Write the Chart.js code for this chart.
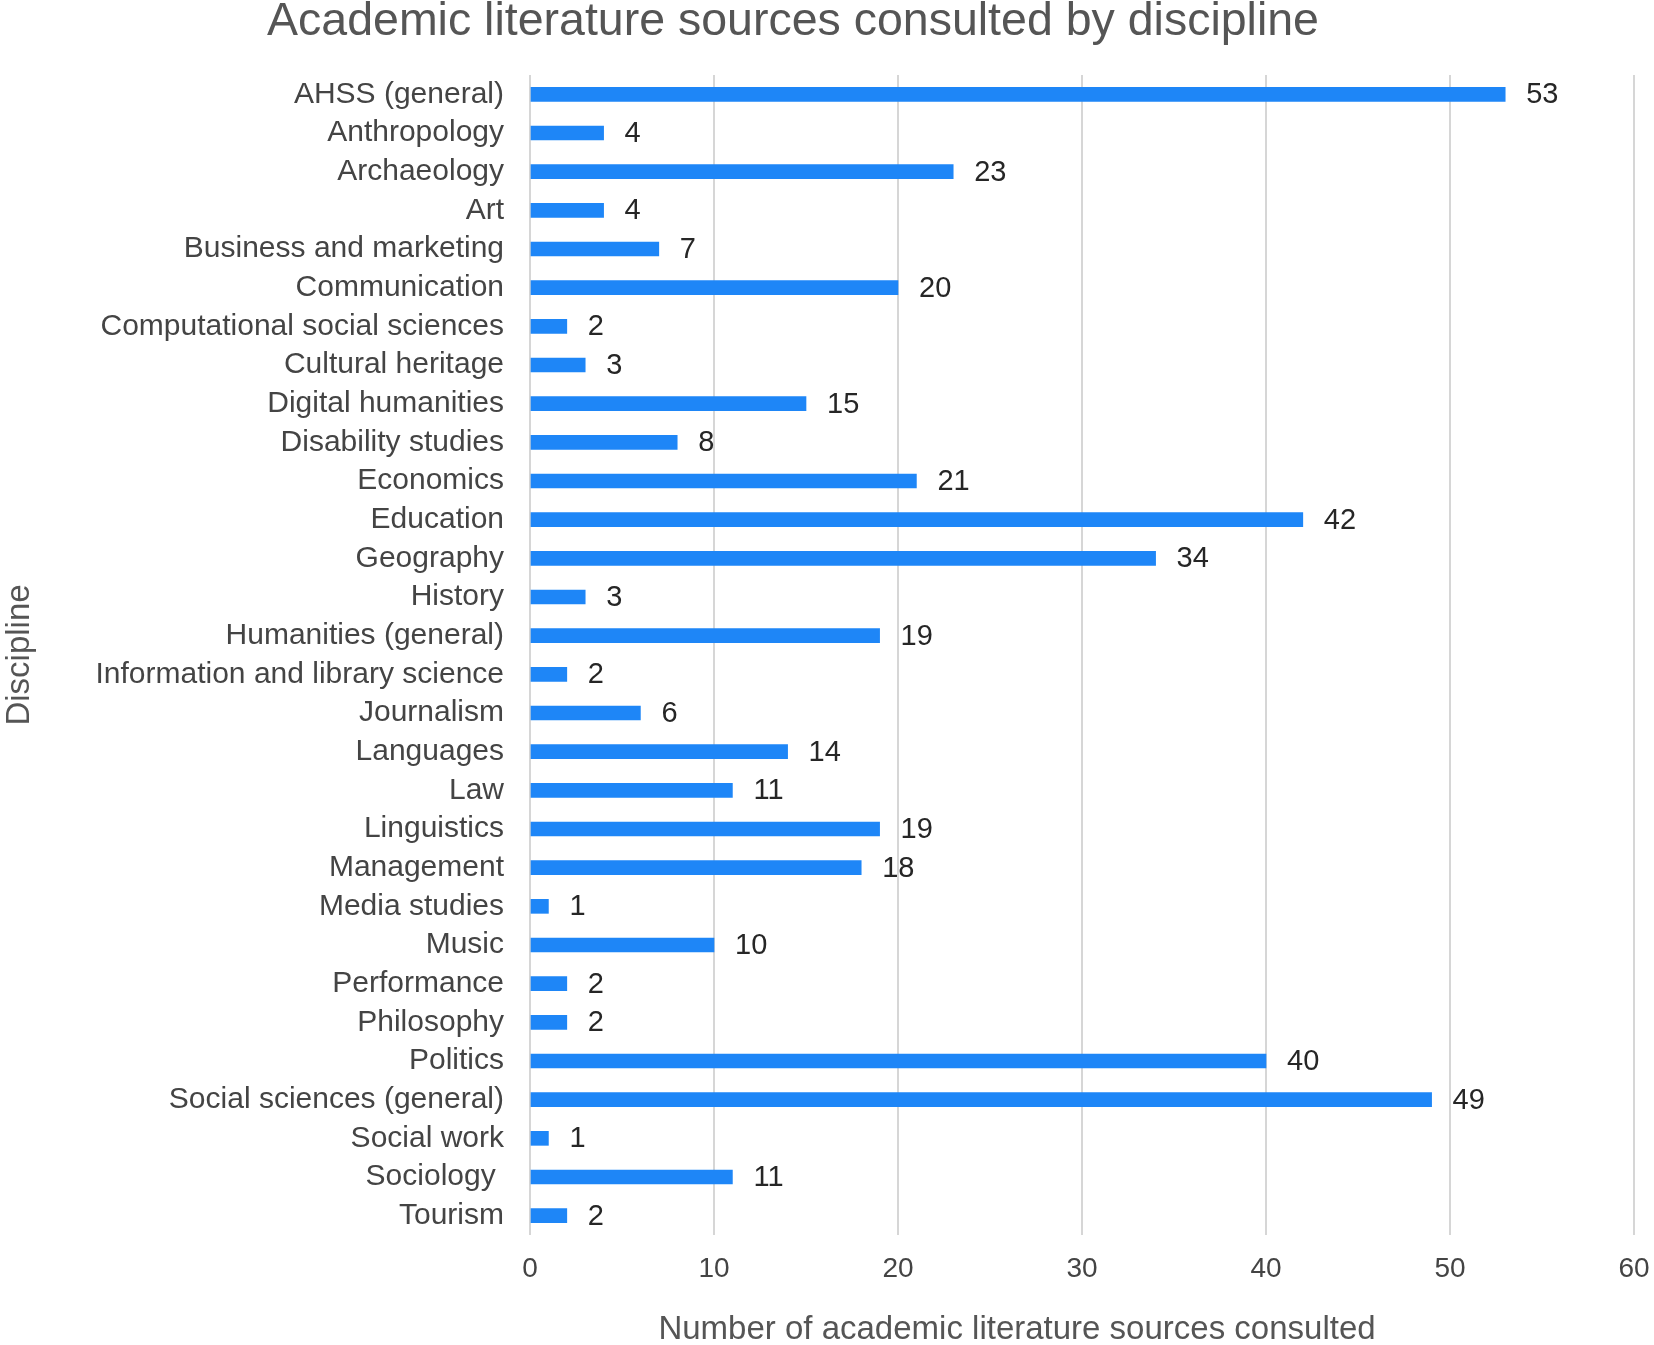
<!DOCTYPE html>
<html>
<head>
<meta charset="utf-8">
<script src="https://cdn.jsdelivr.net/npm/chart.js@4/dist/chart.umd.min.js"></script>
<style>
html,body{margin:0;padding:0;background:#fff;}
canvas{display:block;}
</style>
</head>
<body>
<canvas id="c" width="1654" height="1345"></canvas>
<script>
const categories = [
  "AHSS (general)", "Anthropology", "Archaeology", "Art", "Business and marketing",
  "Communication", "Computational social sciences", "Cultural heritage", "Digital humanities",
  "Disability studies", "Economics", "Education", "Geography", "History", "Humanities (general)",
  "Information and library science", "Journalism", "Languages", "Law", "Linguistics",
  "Management", "Media studies", "Music", "Performance", "Philosophy", "Politics",
  "Social sciences (general)", "Social work", "Sociology ", "Tourism"
];
const sourcesConsulted = [53, 4, 23, 4, 7, 20, 2, 3, 15, 8, 21, 42, 34, 3, 19, 2, 6, 14, 11, 19, 18, 1, 10, 2, 2, 40, 49, 1, 11, 2];
const xTicks = [0, 10, 20, 30, 40, 50, 60];
const chartTitle = "Academic literature sources consulted by discipline";
const xTitle = "Number of academic literature sources consulted";
const yTitle = "Discipline";

const FONT = "'Liberation Sans', Arial, sans-serif";

const extraText = {
  id: 'extraText',
  afterDatasetsDraw(chart) {
    const ctx = chart.ctx;
    const meta = chart.getDatasetMeta(0);
    ctx.save();
    ctx.font = "29px " + FONT;
    ctx.fillStyle = "#262626";
    ctx.textAlign = "left";
    ctx.textBaseline = "middle";
    meta.data.forEach((el, i) => {
      ctx.fillText(String(sourcesConsulted[i]), el.x + 21, el.y + 1);
    });
    ctx.restore();
  },
  afterDraw(chart) {
    const ctx = chart.ctx;
    ctx.save();
    ctx.fillStyle = "#555555";
    ctx.textAlign = "center";
    ctx.textBaseline = "middle";
    ctx.font = "46.5px " + FONT;
    ctx.fillText(chartTitle, 793, 22);
    ctx.font = "33px " + FONT;
    ctx.fillText(xTitle, 1017, 1330);
    ctx.restore();
  }
};

new Chart(document.getElementById('c'), {
  type: 'bar',
  data: {
    labels: categories,
    datasets: [{
      data: sourcesConsulted,
      backgroundColor: '#1e86f7',
      borderWidth: 0,
      barThickness: 14
    }]
  },
  plugins: [extraText],
  options: {
    indexAxis: 'y',
    responsive: false,
    animation: false,
    devicePixelRatio: 1,
    layout: { padding: { top: 75, right: 20, bottom: 0, left: 0 } },
    plugins: {
      legend: { display: false },
      title: { display: false },
      tooltip: { enabled: false }
    },
    scales: {
      x: {
        type: 'linear',
        min: 0,
        max: 60,
        afterBuildTicks(scale) { scale.ticks = xTicks.map(v => ({ value: v })); },
        afterFit(scale) { scale.height = 110; scale.paddingLeft = 0; scale.paddingRight = 0; },
        grid: { color: '#d6d6d6', lineWidth: 2, drawTicks: false },
        border: { display: false },
        ticks: { color: '#444444', font: { family: FONT, size: 28 }, padding: 17 }
      },
      y: {
        afterFit(scale) { scale.width = 530; },
        grid: { display: false, drawTicks: false },
        border: { display: false },
        ticks: { color: '#444444', font: { family: FONT, size: 30 }, padding: 26, autoSkip: false },
        title: {
          display: true,
          text: yTitle,
          color: '#555555',
          font: { family: FONT, size: 33 },
          padding: { top: 0, bottom: 0 }
        }
      }
    }
  }
});
</script>
</body>
</html>
